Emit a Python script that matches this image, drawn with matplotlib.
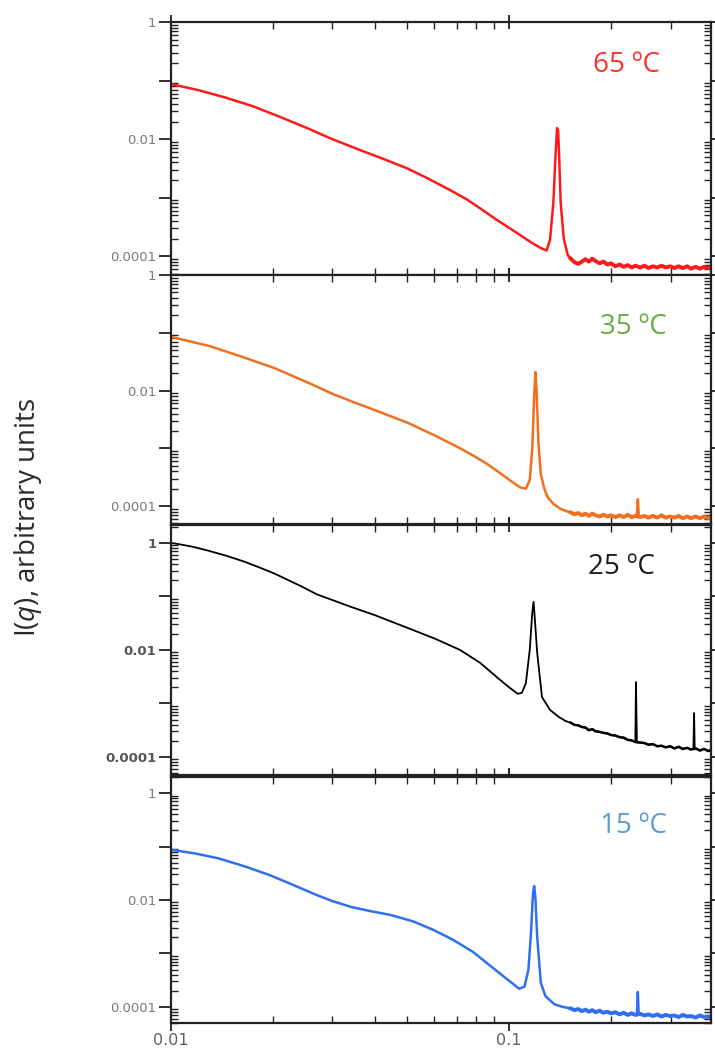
import numpy as np
import matplotlib
matplotlib.use('Agg')
import matplotlib.pyplot as plt
from matplotlib.ticker import LogLocator, FuncFormatter, FixedLocator, NullFormatter

plt.rcParams['mathtext.fontset'] = 'custom'
plt.rcParams['mathtext.rm'] = 'Open Sans'
plt.rcParams['mathtext.it'] = 'Open Sans:italic'

# shared q grid for the flat, noisy tail (q > 0.15)
q_tail = [0.152, 0.156, 0.160, 0.164, 0.168, 0.172, 0.176, 0.180, 0.185, 0.190, 0.195, 0.200,
          0.206, 0.212, 0.218, 0.224, 0.230, 0.236, 0.244, 0.251, 0.258, 0.266, 0.274, 0.282,
          0.290, 0.299, 0.308, 0.317, 0.326, 0.336, 0.344, 0.356, 0.366, 0.377, 0.388, 0.395]

# 65 C
q65 = [0.0100, 0.0120, 0.0145, 0.0175, 0.0210, 0.0250, 0.0300, 0.0360, 0.0430, 0.0500, 0.0570,
       0.0669, 0.0750, 0.0820, 0.0920, 0.1060, 0.1160, 0.1240, 0.1290, 0.1320, 0.1350, 0.1370,
       0.1385, 0.1395, 0.1405, 0.1420, 0.1450, 0.1490]
log65 = [-1.06, -1.16, -1.29, -1.44, -1.62, -1.80, -2.00, -2.18, -2.35, -2.50, -2.66,
         -2.87, -3.03, -3.18, -3.38, -3.61, -3.76, -3.86, -3.90, -3.72, -3.10, -2.30,
         -1.81, -1.85, -2.30, -3.10, -3.70, -3.98]
tail65 = [-4.04, -4.10, -4.13, -4.09, -4.05, -4.09, -4.04, -4.08, -4.12, -4.09, -4.14, -4.12,
          -4.17, -4.14, -4.18, -4.15, -4.19, -4.16, -4.19, -4.16, -4.20, -4.17, -4.19, -4.16,
          -4.19, -4.17, -4.20, -4.17, -4.20, -4.17, -4.21, -4.18, -4.21, -4.18, -4.20, -4.19]
q65_spk, log65_spk = [], []

# 35 C
q35 = [0.0100, 0.0130, 0.0163, 0.0202, 0.0258, 0.0301, 0.0350, 0.0401, 0.0502, 0.0604, 0.0716,
       0.0780, 0.0860, 0.0940, 0.1020, 0.1080, 0.1120, 0.1150, 0.1170, 0.1185, 0.1195, 0.1205,
       0.1220, 0.1240, 0.1270, 0.1300, 0.1350, 0.1420, 0.1480]
log35 = [-1.07, -1.23, -1.42, -1.61, -1.88, -2.06, -2.21, -2.34, -2.56, -2.78, -3.00,
         -3.12, -3.27, -3.43, -3.58, -3.68, -3.70, -3.55, -3.00, -2.10, -1.68, -2.00,
         -2.90, -3.45, -3.70, -3.85, -3.96, -4.05, -4.09]
tail35 = [-4.11, -4.14, -4.12, -4.16, -4.13, -4.17, -4.13, -4.16, -4.18, -4.15, -4.18, -4.16,
          -4.19, -4.16, -4.19, -4.15, -4.19, -4.17, -4.19, -4.17, -4.20, -4.17, -4.20, -4.16,
          -4.20, -4.18, -4.20, -4.17, -4.21, -4.18, -4.21, -4.18, -4.21, -4.18, -4.21, -4.19]
q35_spk = [0.2385, 0.2400, 0.2415]
log35_spk = [-4.15, -3.88, -4.15]

# 25 C
q25 = [0.0100, 0.0103, 0.0116, 0.0130, 0.0146, 0.0165, 0.0183, 0.0202, 0.0241, 0.0270, 0.0301,
       0.0339, 0.0401, 0.0502, 0.0604, 0.0716, 0.0820, 0.0940, 0.1000, 0.1060, 0.1090, 0.1120,
       0.1150, 0.1170, 0.1180, 0.1190, 0.1210, 0.1250, 0.1320, 0.1400, 0.1470]
log25 = [0.00, -0.01, -0.07, -0.15, -0.24, -0.35, -0.46, -0.57, -0.80, -0.96, -1.07,
         -1.19, -1.35, -1.59, -1.79, -2.00, -2.24, -2.56, -2.70, -2.82, -2.80, -2.62,
         -2.00, -1.30, -1.10, -1.40, -2.06, -2.88, -3.12, -3.25, -3.33]
tail25 = [-3.36, -3.40, -3.41, -3.44, -3.45, -3.50, -3.48, -3.52, -3.53, -3.55, -3.56, -3.59,
          -3.60, -3.63, -3.64, -3.68, -3.69, -3.72, -3.73, -3.74, -3.77, -3.76, -3.80, -3.79,
          -3.82, -3.80, -3.84, -3.81, -3.85, -3.83, -3.86, -3.84, -3.88, -3.85, -3.89, -3.87]
q25_spk = [0.2355, 0.2370, 0.2385, 0.3505, 0.3520, 0.3535]
log25_spk = [-3.72, -2.60, -3.73, -3.85, -3.18, -3.86]

# 15 C
q15 = [0.0100, 0.0118, 0.0138, 0.0165, 0.0195, 0.0230, 0.0268, 0.0300, 0.0341, 0.0390, 0.0446,
       0.0520, 0.0597, 0.0680, 0.0781, 0.0941, 0.1070, 0.1110, 0.1140, 0.1160, 0.1175, 0.1185,
       0.1195, 0.1210, 0.1240, 0.1280, 0.1360, 0.1440]
log15 = [-1.06, -1.13, -1.22, -1.37, -1.53, -1.72, -1.90, -2.02, -2.13, -2.21, -2.28,
         -2.40, -2.56, -2.74, -2.97, -3.38, -3.66, -3.62, -3.30, -2.60, -1.90, -1.74,
         -1.95, -2.70, -3.55, -3.80, -3.95, -4.00]
tail15 = [-4.03, -4.06, -4.04, -4.08, -4.05, -4.09, -4.06, -4.10, -4.07, -4.11, -4.09, -4.12,
          -4.10, -4.14, -4.11, -4.15, -4.12, -4.15, -4.13, -4.16, -4.14, -4.17, -4.14, -4.18,
          -4.15, -4.17, -4.16, -4.19, -4.15, -4.18, -4.17, -4.20, -4.16, -4.19, -4.18, -4.20]
q15_spk = [0.2385, 0.2400, 0.2415]
log15_spk = [-4.14, -3.72, -4.14]

labels = ['65 ºC', '35 ºC', '25 ºC', '15 ºC']
line_colors = ['#ff1a1a', '#f07020', '#000000', '#2f6ff0']
label_colors = ['#ff3030', '#6aab45', '#1a1a1a', '#5b9bd5']

panels = [
    (q65, log65, tail65, q65_spk, log65_spk),
    (q35, log35, tail35, q35_spk, log35_spk),
    (q25, log25, tail25, q25_spk, log25_spk),
    (q15, log15, tail15, q15_spk, log15_spk),
]

W, H = 715, 1055
fig = plt.figure(figsize=(W / 100, H / 100), dpi=100)

# pixel boxes (top, bottom) and y-limits of each panel
boxes = [(22, 275), (275, 524), (525, 775), (777, 1023)]
ylims = [(4.8e-5, 1.0), (4.9e-5, 1.0), (4.6e-5, 2.17), (5.0e-5, 2.0)]
label_pos = [(593, 65), (600, 327), (588, 567), (600, 826)]
lws = [1.8, 1.8, 1.3, 1.8]
tail_extra = [1.0, 1.0, 0.5, 1.0]
left, right = 171, 711


def ylab(v, pos):
    return {1.0: '1', 0.01: '0.01', 1e-4: '0.0001'}.get(round(v, 8), '')


for i, (q, lg, tail, qs, ls) in enumerate(panels):
    top, bot = boxes[i]
    ax = fig.add_axes([left / W, 1 - bot / H, (right - left) / W, (bot - top) / H])
    qq = np.concatenate([q, q_tail, qs])
    ii = 10 ** np.concatenate([lg, tail, ls])
    order = np.argsort(qq)
    ax.plot(qq[order], ii[order], color=line_colors[i], lw=lws[i], solid_joinstyle='round')
    # noisy tail reads as a slightly thicker band
    ax.plot(q_tail, 10 ** np.array(tail), color=line_colors[i], lw=lws[i] + tail_extra[i])

    ax.set_xscale('log')
    ax.set_yscale('log')
    ax.set_xlim(0.01, 0.395)
    ax.set_ylim(*ylims[i])

    for s in ax.spines.values():
        s.set_linewidth(1.6)
        s.set_color('#222222')

    ax.yaxis.set_major_locator(FixedLocator([1e-4, 1e-3, 1e-2, 1e-1, 1.0]))
    ax.yaxis.set_minor_locator(LogLocator(base=10, subs=np.arange(2, 10), numticks=20))
    ax.yaxis.set_major_formatter(FuncFormatter(ylab))
    ax.yaxis.set_minor_formatter(NullFormatter())
    ax.xaxis.set_major_locator(FixedLocator([0.01, 0.1]))
    ax.xaxis.set_minor_locator(LogLocator(base=10, subs=np.arange(2, 10), numticks=20))
    ax.xaxis.set_minor_formatter(NullFormatter())

    bold = 'bold' if i == 2 else 'normal'
    ax.tick_params(axis='y', which='major', direction='out', length=9, width=1.3,
                   left=True, right=True, labelsize=9.5,
                   labelcolor='#555555' if i == 2 else '#7a7a7a', pad=1.5, color='#222222')
    ax.tick_params(axis='y', which='minor', direction='in', length=5, width=1.0,
                   left=True, right=True, color='#222222')
    ax.tick_params(axis='x', which='major', direction='inout', length=10, width=1.3,
                   top=True, bottom=True, color='#222222')
    ax.tick_params(axis='x', which='minor', direction='in', length=5, width=1.0,
                   top=True, bottom=True, color='#222222')
    for t in ax.get_yticklabels():
        t.set_fontweight(bold)

    if i < 3:
        ax.tick_params(axis='x', labelbottom=False)
    else:
        ax.tick_params(axis='x', which='major', direction='out', length=6,
                       labelsize=11.5, labelcolor='#606060', pad=1)
        ax.xaxis.set_major_formatter(FuncFormatter(lambda v, p: '0.01' if v < 0.05 else '0.1'))

    lx, ly = label_pos[i]
    fig.text(lx / W, 1 - ly / H, labels[i], color=label_colors[i], fontsize=20,
             family='Open Sans', ha='left', va='center')

fig.text(28 / W, 1 - 517 / H, r'I($q$), arbitrary units', rotation=90, fontsize=20,
         family='Open Sans', color='#2a2a2a', ha='center', va='center')

fig.savefig('out.png', dpi=100)
